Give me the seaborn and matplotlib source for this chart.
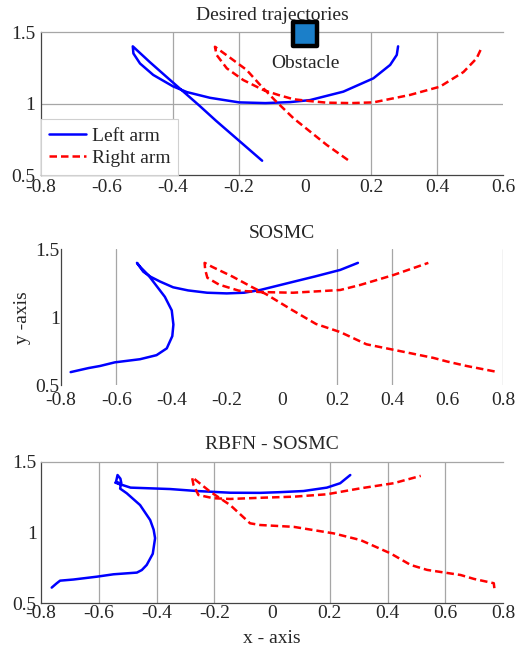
import matplotlib
matplotlib.use("Agg")
import matplotlib.pyplot as plt
import seaborn as sns
import pandas as pd

# desired trajectories (panel 1)
des_left_x = [-0.13, -0.18, -0.22, -0.27, -0.32, -0.37, -0.42, -0.47, -0.522,
              -0.52, -0.50, -0.46, -0.40, -0.358, -0.288, -0.20, -0.12, -0.045,
              0.015, 0.116, 0.207, 0.258, 0.278, 0.282]
des_left_y = [0.60, 0.70, 0.78, 0.88, 0.985, 1.086, 1.187, 1.289, 1.40,
              1.35, 1.28, 1.20, 1.12, 1.08, 1.04, 1.008, 1.003, 1.01,
              1.024, 1.083, 1.176, 1.27, 1.34, 1.40]
des_right_x = [0.13, 0.066, -0.035, -0.09, -0.136, -0.177, -0.227, -0.273,
               -0.268, -0.237, -0.187, -0.126, -0.081, -0.035, 0.015, 0.066,
               0.14, 0.207, 0.318, 0.409, 0.48, 0.52, 0.535]
des_right_y = [0.605, 0.71, 0.897, 1.02, 1.13, 1.235, 1.32, 1.397,
               1.34, 1.246, 1.164, 1.094, 1.06, 1.03, 1.017, 1.006,
               1.003, 1.008, 1.06, 1.118, 1.22, 1.316, 1.39]
obstacle_x = [0.0]
obstacle_y = [1.483]

# SOSMC (panel 2)
sos_left_x = [-0.765, -0.70, -0.659, -0.605, -0.514, -0.454, -0.417, -0.397, -0.393,
              -0.399, -0.424, -0.454, -0.484, -0.514, -0.525, -0.502, -0.478, -0.441,
              -0.394, -0.34, -0.271, -0.20, -0.137, -0.079, 0.04, 0.12, 0.211, 0.275]
sos_left_y = [0.595, 0.625, 0.64, 0.667, 0.69, 0.72, 0.77, 0.86, 0.945,
              1.05, 1.15, 1.23, 1.31, 1.372, 1.40, 1.335, 1.30, 1.262,
              1.22, 1.197, 1.18, 1.175, 1.18, 1.20, 1.26, 1.30, 1.348, 1.40]
sos_right_x = [0.77, 0.669, 0.598, 0.548, 0.403, 0.306, 0.211, 0.123, 0.039,
               -0.058, -0.107, -0.18, -0.252, -0.28, -0.278, -0.27, -0.228,
               -0.156, -0.079, 0.04, 0.211, 0.283, 0.403, 0.53]
sos_right_y = [0.60, 0.64, 0.673, 0.70, 0.76, 0.80, 0.89, 0.95, 1.05,
               1.17, 1.22, 1.30, 1.37, 1.40, 1.35, 1.29, 1.24,
               1.195, 1.185, 1.18, 1.20, 1.237, 1.31, 1.40]

# RBFN - SOSMC (panel 3)
rbf_left_x = [-0.763, -0.746, -0.734, -0.688, -0.607, -0.549, -0.468, -0.451, -0.434,
              -0.413, -0.405, -0.41, -0.422, -0.457, -0.503, -0.526, -0.524, -0.54,
              -0.535, -0.525, -0.522, -0.543, -0.49, -0.353, -0.26, -0.145, -0.041,
              0.028, 0.109, 0.19, 0.236, 0.271]
rbf_left_y = [0.611, 0.641, 0.66, 0.668, 0.688, 0.705, 0.717, 0.735, 0.771,
              0.85, 0.96, 1.02, 1.088, 1.194, 1.277, 1.31, 1.335, 1.36,
              1.406, 1.38, 1.35, 1.352, 1.317, 1.307, 1.293, 1.281, 1.28,
              1.285, 1.293, 1.317, 1.348, 1.406]
rbf_right_x = [0.77, 0.768, 0.70, 0.653, 0.537, 0.48, 0.41, 0.306, 0.213, 0.075,
               -0.041, -0.076, -0.145, -0.214, -0.272, -0.277, -0.272, -0.255,
               -0.203, -0.145, -0.03, 0.075, 0.19, 0.306, 0.421, 0.515]
rbf_right_y = [0.607, 0.642, 0.672, 0.70, 0.736, 0.771, 0.853, 0.947, 0.994, 1.04,
               1.053, 1.065, 1.194, 1.288, 1.383, 1.39, 1.336, 1.265,
               1.242, 1.237, 1.246, 1.253, 1.27, 1.312, 1.348, 1.40]

xtick_top = [-0.8, -0.6, -0.4, -0.2, 0, 0.2, 0.4, 0.6]
xtick_bot = [-0.8, -0.6, -0.4, -0.2, 0, 0.2, 0.4, 0.6, 0.8]
yticks = [0.5, 1, 1.5]

sns.set_style("white")
plt.rcParams['font.family'] = ['Liberation Serif', 'DejaVu Serif']
plt.rcParams['font.size'] = 14

FS = 14
fig = plt.figure(figsize=(5.28, 6.55), dpi=100)
ax1 = fig.add_axes([0.0777, 0.7328, 0.875, 0.2183])
ax2 = fig.add_axes([0.1155, 0.4122, 0.837, 0.2072])
ax3 = fig.add_axes([0.0777, 0.0789, 0.875, 0.2162])

grid_c = '#a6a6a6'


def fmt(v):
    return '0' if v == 0 else ('%g' % v)


def draw(ax, lx, ly, rx, ry, label=False):
    sns.lineplot(data=pd.DataFrame({'x': lx, 'y': ly}), x='x', y='y', sort=False,
                 estimator=None, color='#0000ff', lw=1.8, ax=ax,
                 label='Left arm' if label else None, legend=False, zorder=3)
    sns.lineplot(data=pd.DataFrame({'x': rx, 'y': ry}), x='x', y='y', sort=False,
                 estimator=None, color='#ff0000', lw=1.8, ax=ax, ls=(0, (3, 1.6)),
                 label='Right arm' if label else None, legend=False, zorder=3)
    ax.set_xlabel('')
    ax.set_ylabel('')
    ax.set_ylim(0.5, 1.5)
    ax.set_yticks(yticks)
    ax.set_yticklabels([fmt(v) for v in yticks])
    ax.tick_params(length=0, labelsize=FS)
    ax.spines['right'].set_visible(False)
    ax.spines['left'].set_color('#444444')
    ax.spines['bottom'].set_color('#444444')
    ax.spines['top'].set_color(grid_c)
    for s in ax.spines.values():
        s.set_linewidth(0.9)


# panel 1
draw(ax1, des_left_x, des_left_y, des_right_x, des_right_y, label=True)
ax1.set_xlim(-0.8, 0.6)
ax1.set_xticks(xtick_top)
ax1.set_xticklabels([fmt(v) for v in xtick_top])
ax1.tick_params(axis='x', pad=3)
ax1.tick_params(axis='y', pad=4)
for gx in [-0.4, -0.2, 0.2, 0.4]:
    ax1.axvline(gx, color=grid_c, lw=0.9, zorder=0)
ax1.axhline(1.0, color=grid_c, lw=0.9, zorder=0)
ax1.set_title('Desired trajectories', fontsize=FS, pad=9)
sns.scatterplot(x=obstacle_x, y=obstacle_y, marker='s', s=290, color='#1b7fc9',
                edgecolor='black', linewidth=3.2, ax=ax1, zorder=5, legend=False)
ax1.collections[-1].set_clip_on(False)
ax1.text(0.0, 1.28, 'Obstacle', ha='center', va='center', fontsize=FS)
leg = ax1.legend(loc='lower left', borderaxespad=0, fancybox=False, framealpha=1,
                 edgecolor='#d0d0d0', fontsize=FS, handlelength=1.9,
                 handletextpad=0.3, labelspacing=0.25, borderpad=0.4)
leg.get_frame().set_linewidth(0.8)
leg.set_zorder(4)

# panel 2
draw(ax2, sos_left_x, sos_left_y, sos_right_x, sos_right_y)
ax2.set_xlim(-0.8, 0.8)
ax2.set_xticks(xtick_bot)
ax2.set_xticklabels([fmt(v) for v in xtick_bot])
ax2.spines['top'].set_visible(False)
ax2.spines['bottom'].set_visible(False)
ax2.tick_params(axis='x', pad=5)
ax2.tick_params(axis='y', pad=1)
for gx in [-0.6, 0.2, 0.4, 0.8]:
    ax2.axvline(gx, color=grid_c, lw=0.9, zorder=0)
ax2.set_title('SOSMC', fontsize=FS, pad=8)
ax2.set_ylabel('y -axis', fontsize=FS, labelpad=3)

# panel 3
draw(ax3, rbf_left_x, rbf_left_y, rbf_right_x, rbf_right_y)
ax3.set_xlim(-0.8, 0.8)
ax3.set_xticks(xtick_bot)
ax3.set_xticklabels([fmt(v) for v in xtick_bot])
ax3.tick_params(axis='x', pad=1)
ax3.tick_params(axis='y', pad=3)
for gx in [-0.6, -0.4, -0.2, 0.2, 0.4, 0.6]:
    ax3.axvline(gx, color=grid_c, lw=0.9, zorder=0)
ax3.set_title('RBFN - SOSMC', fontsize=FS, pad=9)
ax3.set_xlabel('x - axis', fontsize=FS, labelpad=6)

fig.savefig('out.png', dpi=100)
